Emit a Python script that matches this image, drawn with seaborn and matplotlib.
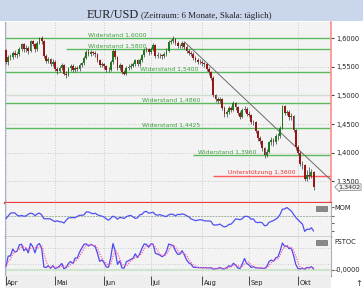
import numpy as np
import pandas as pd
import matplotlib
matplotlib.use("Agg")
import matplotlib.pyplot as plt
import matplotlib.transforms as mtransforms
from matplotlib.patches import Rectangle
import seaborn as sns

# ---------------- data ----------------
first_day = "2008-04-01"
last_day = "2008-10-10"
month_labels = ["Apr", "Mai", "Jun", "Jul", "Aug", "Sep", "Okt"]

open_ = [1.579, 1.558, 1.567, 1.567, 1.574, 1.571, 1.572, 1.581, 1.589, 1.580, 1.583, 1.577, 1.594, 1.590, 1.580, 1.592, 1.600, 1.594, 1.569, 1.560, 1.563, 1.555,
         1.559, 1.546, 1.543, 1.547, 1.553, 1.538, 1.536, 1.547, 1.552, 1.545, 1.548, 1.546, 1.553, 1.556, 1.566, 1.576, 1.573, 1.576, 1.574, 1.572, 1.562, 1.553,
         1.555, 1.551, 1.545, 1.544, 1.558, 1.578, 1.567, 1.548, 1.553, 1.541, 1.538, 1.548, 1.550, 1.552, 1.554, 1.561, 1.555, 1.561, 1.570, 1.579, 1.580,
         1.575, 1.581, 1.587, 1.569, 1.571, 1.570, 1.569, 1.572, 1.578, 1.593, 1.594, 1.598, 1.591, 1.586, 1.586, 1.591, 1.585, 1.578, 1.574, 1.572, 1.566, 1.562, 1.559,
         1.558, 1.556, 1.554, 1.546, 1.540, 1.531, 1.500, 1.493, 1.491, 1.494, 1.478, 1.467, 1.471, 1.478, 1.475, 1.486, 1.479, 1.469, 1.463, 1.475, 1.477,
         1.468, 1.466, 1.454, 1.453, 1.438, 1.426, 1.420, 1.408, 1.396, 1.402, 1.418, 1.423, 1.419, 1.429, 1.429, 1.444, 1.481, 1.470, 1.471, 1.462, 1.464, 1.440,
         1.410, 1.400, 1.381, 1.379, 1.354, 1.362, 1.360, 1.366]
high = [1.581, 1.570, 1.573, 1.578, 1.579, 1.576, 1.584, 1.592, 1.591, 1.587, 1.586, 1.596, 1.597, 1.592, 1.595, 1.602, 1.603, 1.596, 1.572, 1.567, 1.566, 1.563,
        1.561, 1.550, 1.551, 1.557, 1.555, 1.543, 1.550, 1.555, 1.554, 1.551, 1.552, 1.556, 1.559, 1.569, 1.579, 1.580, 1.579, 1.578, 1.577, 1.574, 1.564, 1.559,
        1.557, 1.553, 1.549, 1.561, 1.580, 1.580, 1.569, 1.557, 1.555, 1.545, 1.551, 1.554, 1.556, 1.558, 1.564, 1.563, 1.565, 1.573, 1.582, 1.584, 1.583,
        1.584, 1.591, 1.589, 1.575, 1.574, 1.573, 1.576, 1.582, 1.596, 1.598, 1.603, 1.600, 1.594, 1.590, 1.594, 1.593, 1.587, 1.581, 1.577, 1.575, 1.569, 1.565, 1.563,
        1.561, 1.559, 1.557, 1.549, 1.542, 1.533, 1.503, 1.497, 1.498, 1.496, 1.481, 1.475, 1.481, 1.481, 1.490, 1.488, 1.481, 1.472, 1.478, 1.481, 1.479,
        1.472, 1.468, 1.458, 1.455, 1.440, 1.430, 1.422, 1.410, 1.406, 1.421, 1.427, 1.426, 1.433, 1.435, 1.447, 1.484, 1.484, 1.475, 1.474, 1.469, 1.466, 1.442,
        1.414, 1.403, 1.385, 1.381, 1.370, 1.376, 1.371, 1.369]
low = [1.555, 1.553, 1.562, 1.564, 1.567, 1.566, 1.569, 1.578, 1.576, 1.575, 1.573, 1.575, 1.586, 1.576, 1.578, 1.589, 1.590, 1.565, 1.556, 1.556, 1.552, 1.551,
       1.543, 1.538, 1.540, 1.544, 1.535, 1.530, 1.534, 1.543, 1.541, 1.541, 1.543, 1.543, 1.549, 1.553, 1.563, 1.569, 1.569, 1.570, 1.567, 1.558, 1.549, 1.549,
       1.546, 1.541, 1.540, 1.542, 1.555, 1.563, 1.545, 1.544, 1.538, 1.535, 1.536, 1.545, 1.546, 1.549, 1.551, 1.552, 1.552, 1.558, 1.567, 1.575, 1.571,
       1.572, 1.578, 1.565, 1.566, 1.565, 1.564, 1.566, 1.569, 1.576, 1.589, 1.591, 1.587, 1.582, 1.582, 1.583, 1.581, 1.574, 1.570, 1.568, 1.562, 1.558, 1.555, 1.554,
       1.552, 1.550, 1.542, 1.536, 1.526, 1.497, 1.489, 1.486, 1.487, 1.474, 1.463, 1.463, 1.468, 1.471, 1.472, 1.475, 1.465, 1.459, 1.460, 1.471, 1.464,
       1.462, 1.450, 1.448, 1.434, 1.421, 1.415, 1.403, 1.391, 1.392, 1.399, 1.413, 1.412, 1.416, 1.423, 1.426, 1.442, 1.466, 1.466, 1.458, 1.458, 1.436, 1.405,
       1.396, 1.377, 1.372, 1.350, 1.350, 1.355, 1.356, 1.335]
close = [1.558, 1.567, 1.567, 1.574, 1.571, 1.572, 1.581, 1.589, 1.580, 1.583, 1.577, 1.594, 1.590, 1.580, 1.592, 1.600, 1.594, 1.569, 1.560, 1.563, 1.555, 1.559,
         1.546, 1.543, 1.547, 1.553, 1.538, 1.536, 1.547, 1.552, 1.545, 1.548, 1.546, 1.553, 1.556, 1.566, 1.576, 1.573, 1.576, 1.574, 1.572, 1.562, 1.553, 1.555,
         1.551, 1.545, 1.544, 1.558, 1.578, 1.567, 1.548, 1.553, 1.541, 1.538, 1.548, 1.550, 1.552, 1.554, 1.561, 1.555, 1.561, 1.570, 1.579, 1.580, 1.575,
         1.581, 1.587, 1.569, 1.571, 1.570, 1.569, 1.572, 1.578, 1.593, 1.594, 1.598, 1.591, 1.586, 1.586, 1.591, 1.585, 1.578, 1.574, 1.572, 1.566, 1.562, 1.559, 1.558,
         1.556, 1.554, 1.546, 1.540, 1.531, 1.500, 1.493, 1.491, 1.494, 1.478, 1.467, 1.471, 1.478, 1.475, 1.486, 1.479, 1.469, 1.463, 1.475, 1.477, 1.468,
         1.466, 1.454, 1.453, 1.438, 1.426, 1.420, 1.408, 1.396, 1.402, 1.418, 1.423, 1.419, 1.429, 1.429, 1.444, 1.481, 1.470, 1.471, 1.462, 1.464, 1.440, 1.410,
         1.400, 1.381, 1.379, 1.354, 1.362, 1.360, 1.366, 1.340]
# closes of the 10 trading days before the window (for the momentum indicator)
pre_close = [1.577, 1.563, 1.540, 1.544, 1.542, 1.562, 1.578, 1.581, 1.579, 1.579]

levels = [1.6000, 1.5800, 1.5400, 1.4860, 1.4425, 1.3960, 1.3600]
level_labels = ["Widerstand 1,6000", "Widerstand 1,5800", "Widerstand 1,5400",
                "Widerstand 1,4860", "Widerstand 1,4425", "Widerstand 1,3960",
                "Unterstützung 1,3600"]
price_ticks = [1.35, 1.40, 1.45, 1.50, 1.55, 1.60]
last_price = 1.3402
trend_dates = ["2008-07-22", "2008-09-05"]
trend_values = [1.5935, 1.4725]

# ---------------- derived ----------------
dates = pd.bdate_range(first_day, last_day)
n = len(dates)
idx = np.arange(n)
df = pd.DataFrame({"date": dates, "i": idx, "open": open_, "high": high,
                   "low": low, "close": close})
month_idx = [int(df.index[df["date"].dt.month == m][0]) for m in range(4, 11)]

all_close = pd.Series(pre_close + close)
df["mom"] = all_close.diff(10).iloc[len(pre_close):].values
hh = df["high"].rolling(14, min_periods=1).max()
ll = df["low"].rolling(14, min_periods=1).min()
df["k"] = 100 * (df["close"] - ll) / (hh - ll)
df["d"] = df["k"].rolling(3, min_periods=1).mean()

# ---------------- style / layout ----------------
sns.set_style("white")
plt.rcParams["font.family"] = ["DejaVu Sans"]
W, H = 363, 288
fig = plt.figure(figsize=(W / 100, H / 100), dpi=100)
fig.patch.set_facecolor("white")


def rect(x0, y0, x1, y1):
    return [x0 / W, 1 - y1 / H, (x1 - x0) / W, (y1 - y0) / H]


fig.add_artist(Rectangle((0, 1 - 21 / H), 1, 21 / H, transform=fig.transFigure,
                         fc="#c9d6ec", ec="none", zorder=0))
t1 = fig.text(87 / W, 1 - 17.5 / H, "EUR/USD", fontsize=8.8, family="Liberation Serif",
              color="#222222", ha="left", va="baseline")
fig.text(141 / W, 1 - 17.5 / H, "(Zeitraum: 6 Monate, Skala: täglich)", fontsize=6.4,
         family="Liberation Serif", color="#222222", ha="left", va="baseline")

ax = fig.add_axes(rect(5, 22, 331, 203))
axm = fig.add_axes(rect(5, 203, 331, 237), sharex=ax)
axs = fig.add_axes(rect(5, 237, 331, 276), sharex=ax)
axd = fig.add_axes(rect(5, 276, 331, 288), sharex=ax)

xmin, xmax = -0.45, 145.8
bg = "#f3f3f3"
grid_kw = dict(color="#bdbdbd", lw=0.6, ls=(0, (1, 2)), zorder=0)
for a in (ax, axm, axs):
    a.set_facecolor(bg)
    for m in month_idx:
        a.axvline(m, **grid_kw)
    for s in a.spines.values():
        s.set_linewidth(0.8)

# ---------------- main price panel ----------------
ax.set_xlim(xmin, xmax)
ax.set_ylim(1.3125, 1.6279)
for p in price_ticks:
    if abs(p - 1.50) < 1e-9:
        ax.axhline(p, color="#cfdccf", lw=1.0, zorder=0)
    else:
        ax.axhline(p, **grid_kw)

level_style = {
    1.6000: dict(start=xmin, lx=36.8, color="#5cb85c", tc="#3f9f3f"),
    1.5800: dict(start=26.9, lx=36.8, color="#5cb85c", tc="#3f9f3f"),
    1.5400: dict(start=xmin, lx=60.1, color="#5cb85c", tc="#3f9f3f"),
    1.4860: dict(start=xmin, lx=61.0, color="#5cb85c", tc="#3f9f3f"),
    1.4425: dict(start=xmin, lx=61.0, color="#5cb85c", tc="#3f9f3f"),
    1.3960: dict(start=83.9, lx=86.1, color="#5cb85c", tc="#3f9f3f"),
    1.3600: dict(start=92.9, lx=99.6, color="#ff5a5a", tc="#ee3030"),
}
for lv, lab in zip(levels, level_labels):
    st = level_style[lv]
    ax.hlines(lv, st["start"], xmax, color=st["color"], lw=1.0, zorder=1)
    ax.text(st["lx"], lv + 0.0012, lab, fontsize=4.4, color=st["tc"],
            ha="left", va="bottom", zorder=2)

# trend line (extended to right edge)
tx = [int(np.where(dates == pd.Timestamp(d))[0][0]) for d in trend_dates]
slope = (trend_values[1] - trend_values[0]) / (tx[1] - tx[0])
ax.plot([tx[0], xmax], [trend_values[0], trend_values[0] + slope * (xmax - tx[0])],
        color="#6a6a6a", lw=0.7, zorder=3)

# candles
up = df["close"] >= df["open"]
ax.vlines(df["i"], df["low"], df["high"], color="#3a3a3a", lw=0.5, zorder=4)
body = (df["close"] - df["open"]).values
body = np.where(np.abs(body) < 0.0008, 0.0008, body)
ax.bar(df["i"], body, bottom=df["open"], width=0.8,
       color=np.where(up, "#1f7a1f", "#9a1616"), edgecolor="none", zorder=5)

ax.yaxis.tick_right()
ax.set_yticks(price_ticks)
ax.set_yticklabels([f"{p:.4f}".replace(".", ",") for p in price_ticks])
ax.tick_params(axis="y", labelsize=4.8, length=2, pad=2, colors="#444444",
               labelcolor="#222222")
ax.tick_params(axis="x", bottom=False, labelbottom=False)
ax.spines["top"].set_visible(False)
ax.spines["left"].set_color("#a8b4cc")
ax.spines["right"].set_color("#ff8c8c")
ax.spines["right"].set_linewidth(1.2)
ax.spines["bottom"].set_color("#e83a3a")
ax.spines["bottom"].set_linewidth(1.6)

trans = mtransforms.blended_transform_factory(ax.transAxes, ax.transData)
ax.text(1.022, last_price, f"{last_price:.4f}".replace(".", ","), transform=trans,
        fontsize=4.6, color="#222222", ha="left", va="center",
        bbox=dict(boxstyle="larrow,pad=0.12", fc="#f2f2f2", ec="#808080", lw=0.5),
        clip_on=False, zorder=6)

# ---------------- MOM panel ----------------
axm.set_ylim(-0.174, 0.113)
axm.axhline(0, color="#9fb39f", lw=0.7, ls=(0, (2, 1)), zorder=1)
sns.lineplot(data=df, x="i", y="mom", ax=axm, color="#5050f0", lw=0.9, zorder=3)
axm.set_xlabel("")
axm.set_ylabel("")
axm.yaxis.tick_right()
axm.set_yticks([0.08, 0.0, -0.06, -0.12])
axm.set_yticklabels([])
axm.tick_params(axis="y", length=2, colors="#666666")
axm.tick_params(axis="x", bottom=False, labelbottom=False)
axm.spines["top"].set_visible(False)
axm.spines["left"].set_color("#a8b4cc")
axm.spines["right"].set_color("#b0b0b0")
axm.spines["bottom"].set_color("#505050")
axm.spines["bottom"].set_linewidth(1.0)

# ---------------- FSTOC panel ----------------
axs.set_ylim(-22, 118.5)
axs.axhline(0, color="#cfe3cf", lw=1.6, zorder=1)
axs.axhline(80, **grid_kw)
axs.axhline(20, **grid_kw)
sns.lineplot(data=df, x="i", y="k", ax=axs, color="#4a4af0", lw=0.9, zorder=3)
sns.lineplot(data=df, x="i", y="d", ax=axs, color="#ff5fa8", lw=0.9,
             linestyle=(0, (1, 1)), zorder=4)
axs.set_xlabel("")
axs.set_ylabel("")
axs.yaxis.tick_right()
axs.set_yticks([0])
axs.set_yticklabels(["-0,0000"])
axs.tick_params(axis="y", labelsize=4.8, length=2, pad=1, colors="#666666",
                labelcolor="#222222")
axs.tick_params(axis="x", bottom=False, labelbottom=False)
axs.spines["top"].set_visible(False)
axs.spines["left"].set_color("#a8b4cc")
axs.spines["right"].set_color("#b0b0b0")
axs.spines["bottom"].set_color("#8a8a8a")

# panel captions and small icons
for y0, name in ((206, "MOM"), (240, "FSTOC")):
    for x0 in (316, 322):
        fig.add_artist(Rectangle((x0 / W, 1 - (y0 + 5) / H), 5 / W, 5 / H,
                                 transform=fig.transFigure, fc="#8a8a8a",
                                 ec="#555555", lw=0.4))
    fig.text(334 / W, 1 - (y0 + 2.5) / H, name, fontsize=4.8, color="#222222",
             ha="left", va="center")

# ---------------- date strip ----------------
axd.set_facecolor("#eeeeee")
for s in axd.spines.values():
    s.set_visible(False)
axd.set_ylim(0, 1)
axd.set_yticks([])
axd.tick_params(axis="x", bottom=False, labelbottom=False)
for m, lab in zip(month_idx, month_labels):
    axd.vlines(m, 0.25, 1.0, color="#444444", lw=0.7)
    axd.text(m + 0.6, 0.45, lab, fontsize=4.8, color="#222222", ha="left", va="center")
fig.text(359 / W, 1 - 283 / H, "↑", fontsize=6, color="#333333", ha="center", va="center")

fig.savefig("out.png", dpi=100)
